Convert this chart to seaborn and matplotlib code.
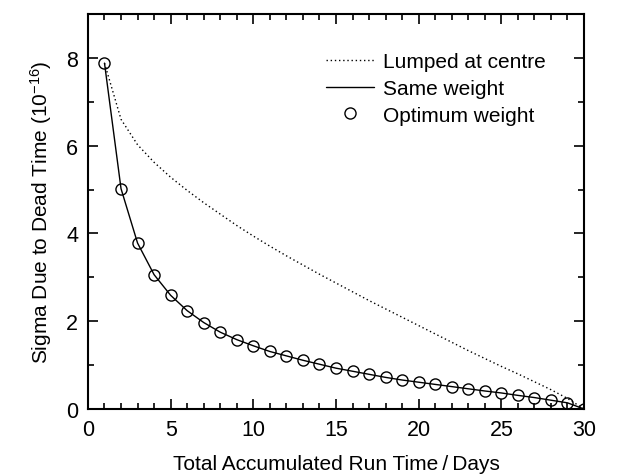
import matplotlib
matplotlib.use("Agg")
import matplotlib.pyplot as plt
import seaborn as sns
import numpy as np
import pandas as pd
from matplotlib.ticker import MultipleLocator

days = list(range(1, 31))
lumped = [7.88, 6.60, 6.02, 5.62, 5.28, 4.98, 4.70, 4.44, 4.18, 3.94,
          3.71, 3.49, 3.28, 3.07, 2.87, 2.67, 2.47, 2.28, 2.09, 1.90,
          1.71, 1.52, 1.33, 1.15, 0.97, 0.80, 0.62, 0.44, 0.24, 0.0]
same_weight = [7.88, 5.02, 3.78, 3.06, 2.59, 2.24, 1.97, 1.75, 1.58, 1.44,
               1.31, 1.21, 1.11, 1.02, 0.93, 0.86, 0.79, 0.72, 0.66, 0.61,
               0.56, 0.51, 0.46, 0.41, 0.365, 0.31, 0.26, 0.20, 0.14, 0.0]
optimum = [7.88, 5.02, 3.78, 3.06, 2.59, 2.24, 1.97, 1.75, 1.58, 1.44,
           1.31, 1.21, 1.11, 1.02, 0.93, 0.86, 0.79, 0.72, 0.66, 0.61,
           0.56, 0.51, 0.46, 0.41, 0.365, 0.31, 0.26, 0.20, 0.14, 0.0]

xticks = [0, 5, 10, 15, 20, 25, 30]
yticks = [0, 2, 4, 6, 8]

sns.set_style("ticks")
plt.rcParams['font.family'] = ['Liberation Sans', 'DejaVu Sans']
plt.rcParams['mathtext.default'] = 'regular'
plt.rcParams['text.color'] = 'black'
plt.rcParams['axes.labelcolor'] = 'black'

fig = plt.figure(figsize=(6.42, 4.77), dpi=100)
ax = fig.add_axes([0.1370, 0.1405, 0.9097 - 0.1370, 0.9686 - 0.1405])

df = pd.DataFrame({"day": days, "lumped": lumped, "same": same_weight,
                   "opt": optimum})

sns.lineplot(data=df, x="day", y="lumped", ax=ax, color="black", lw=1.0,
             linestyle=(0, (1, 2)), label="Lumped at centre")
sns.lineplot(data=df, x="day", y="same", ax=ax, color="black", lw=1.0,
             label="Same weight")
ax.plot(df["day"], df["opt"], linestyle="none", marker="o", ms=8,
        mfc="none", mec="black", mew=1.0, label="Optimum weight")

ax.set_xlim(0, 30)
ax.set_ylim(0, 9)
ax.set_xticks(xticks)
ax.set_yticks(yticks)
ax.xaxis.set_minor_locator(MultipleLocator(1))
ax.yaxis.set_minor_locator(MultipleLocator(1))
ax.tick_params(which="both", direction="in", top=True, right=True,
               width=1.2, labelsize=15.5, colors="black")
ax.tick_params(which="major", length=7, pad=7)
ax.tick_params(which="minor", length=4)
for s in ax.spines.values():
    s.set_linewidth(1.5)
    s.set_color("black")
    s.set_zorder(5)

ax.set_xlabel("Total Accumulated Run Time\u2009/\u2009Days", fontsize=15, labelpad=10)
ax.set_ylabel("Sigma Due to Dead Time (10$^{-16}$)", fontsize=15, labelpad=9)

handles, labels = ax.get_legend_handles_labels()
leg = ax.legend(handles, labels, loc="upper left", bbox_to_anchor=(0.463, 0.925),
                frameon=False, fontsize=15, handlelength=2.3, handletextpad=0.45,
                labelspacing=0.38, borderaxespad=0)

fig.savefig("out.png", dpi=100)
